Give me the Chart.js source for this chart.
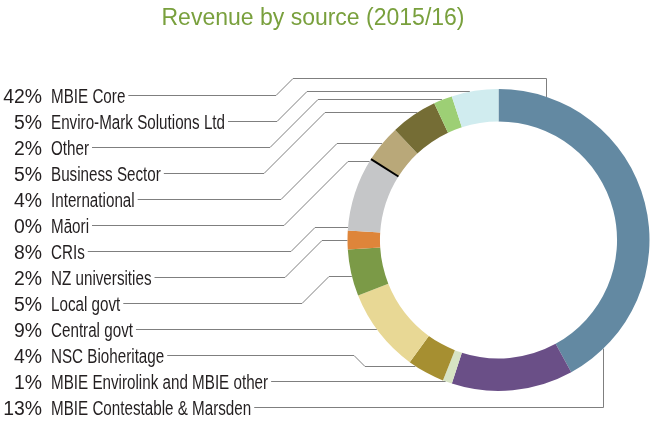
<!DOCTYPE html>
<html>
<head>
<meta charset="utf-8">
<script src="https://cdn.jsdelivr.net/npm/chart.js@4"></script>
<style>
  html, body { margin: 0; padding: 0; background: #fff; }
  #wrap { position: relative; width: 650px; height: 422px; }
</style>
</head>
<body>
<div id="wrap"><canvas id="revenueChart" width="650" height="422"></canvas></div>
<script>
// --- Data ---
const chartTitle = "Revenue by source (2015/16)";
const sources = [
  "MBIE Core", "MBIE Contestable & Marsden", "MBIE Envirolink and MBIE other",
  "NSC Bioheritage", "Central govt", "Local govt", "NZ universities", "CRIs",
  "Māori", "International", "Business Sector", "Other", "Enviro-Mark Solutions Ltd"
];
const shares = [42, 13, 1, 4, 9, 5, 2, 8, 0, 4, 5, 2, 5];
const colours = [
  "#6389a2", "#6a4f87", "#d7e3c3", "#a68f31", "#e8d895", "#7b9a47", "#de853a",
  "#c5c6c8", "#000000", "#b9a879", "#756d35", "#9dcf75", "#d0ecef"
];
// order of the labels down the left side
const listOrder = [0, 12, 11, 10, 9, 8, 7, 6, 5, 4, 3, 2, 1];

// --- Leader line routing (layout only) ---
// deg: where the line meets the ring, clockwise from 12 o'clock
// knee: x where the diagonal ends, level: fixed y of the upper run
const leaders = [
  { deg: 18.7, knee: 293, level: 78.5, drop: true },  // MBIE Core
  { deg: 136, knee: null, drop: true },               // MBIE Contestable
  { deg: null },                                      // Envirolink
  { deg: 213.4, knee: 365 },                          // NSC
  { deg: null },                                      // Central govt
  { deg: 256.2, knee: 329 },                          // Local govt
  { deg: 269.7, knee: 322 },                          // NZ universities
  { deg: 274.6, knee: 315 },                          // CRIs
  { deg: 301.5, knee: 348 },                          // Māori
  { deg: 309.5, knee: 337 },                          // International
  { deg: 327.5, knee: 325 },                          // Business Sector
  { deg: 338, knee: 318 },                            // Other
  { deg: 349.1, knee: 307 }                           // Enviro-Mark
];

const rowTop = 95.5, rowGap = 26;
const pctRight = 42, nameLeft = 51;
const labelFont = '20px "Liberation Sans", Arial, sans-serif';
const nameSquash = 0.76, pctSquash = 0.97;

function ringGeom(chart) {
  const arc = chart.getDatasetMeta(0).data[0];
  return arc.getProps(["x", "y", "outerRadius", "innerRadius"], true);
}
function ringPoint(g, deg) {
  const a = (deg - 90) * Math.PI / 180;
  return { x: g.x + g.outerRadius * Math.cos(a), y: g.y + g.outerRadius * Math.sin(a) };
}
function crisp(v) { return Math.round(v - 0.5) + 0.5; }

// condensed text: squash horizontally around the anchor point
function squashText(ctx, text, x, y, sx, align) {
  ctx.save();
  ctx.translate(x, y);
  ctx.scale(sx, 1);
  ctx.textAlign = align;
  ctx.fillText(text, 0, 0);
  ctx.restore();
}

const leaderPlugin = {
  id: "leaders",
  beforeDatasetsDraw(chart) {
    const ctx = chart.ctx;
    const g = ringGeom(chart);
    ctx.save();
    ctx.font = labelFont;
    ctx.strokeStyle = "#7f7f7f";
    ctx.lineWidth = 1;
    listOrder.forEach((s, i) => {
      const rowY = rowTop + i * rowGap;
      const startX = nameLeft + ctx.measureText(sources[s]).width * nameSquash + 3;
      const spec = leaders[s];
      const pts = [[startX, rowY]];
      if (spec.deg === null) {
        const dy = rowY - g.y;
        pts.push([g.x - Math.sqrt(g.outerRadius * g.outerRadius - dy * dy), rowY]);
      } else {
        const p = ringPoint(g, spec.deg);
        if (spec.knee === null) {
          pts.push([crisp(p.x), rowY], [crisp(p.x), p.y]);
        } else {
          const level = spec.level !== undefined ? spec.level : crisp(p.y);
          const dy = Math.abs(rowY - level);
          pts.push([spec.knee - dy, rowY], [spec.knee, level]);
          if (spec.drop) pts.push([crisp(p.x), level], [crisp(p.x), p.y]);
          else pts.push([p.x, level]);
        }
      }
      ctx.beginPath();
      pts.forEach(([x, y], k) => (k ? ctx.lineTo(x, y) : ctx.moveTo(x, y)));
      ctx.stroke();
    });
    ctx.restore();
  },
  afterDatasetsDraw(chart) {
    const ctx = chart.ctx;
    const g = ringGeom(chart);
    const meta = chart.getDatasetMeta(0);
    ctx.save();

    // zero-share slice shown as a black tick on the ring
    shares.forEach((v, s) => {
      if (v !== 0) return;
      const a = meta.data[s].startAngle;
      ctx.beginPath();
      ctx.moveTo(g.x + g.innerRadius * Math.cos(a), g.y + g.innerRadius * Math.sin(a));
      ctx.lineTo(g.x + g.outerRadius * Math.cos(a), g.y + g.outerRadius * Math.sin(a));
      ctx.strokeStyle = colours[s];
      ctx.lineWidth = 2;
      ctx.stroke();
    });

    // labels
    ctx.font = labelFont;
    ctx.fillStyle = "#231f20";
    ctx.textBaseline = "alphabetic";
    listOrder.forEach((s, i) => {
      const base = rowTop + i * rowGap + 7;
      squashText(ctx, shares[s] + "%", pctRight, base, pctSquash, "right");
      squashText(ctx, sources[s], nameLeft, base, nameSquash, "left");
    });

    // title
    ctx.font = '23px "Liberation Sans", Arial, sans-serif';
    ctx.fillStyle = "#79a03d";
    ctx.textAlign = "center";
    ctx.fillText(chartTitle, 313, 25);
    ctx.restore();
  }
};

// --- Render Chart ---
const canvas = document.getElementById("revenueChart");
new Chart(canvas.getContext("2d"), {
  type: "doughnut",
  data: {
    labels: sources,
    datasets: [{
      data: shares,
      backgroundColor: colours,
      borderWidth: 0
    }]
  },
  options: {
    responsive: false,
    animation: false,
    cutout: "78.5%",
    layout: { padding: { top: 89, bottom: 31, left: 347.5, right: 0.5 } },
    plugins: {
      legend: { display: false },
      tooltip: { enabled: false },
      title: { display: false }
    }
  },
  plugins: [leaderPlugin]
});
</script>
</body>
</html>
